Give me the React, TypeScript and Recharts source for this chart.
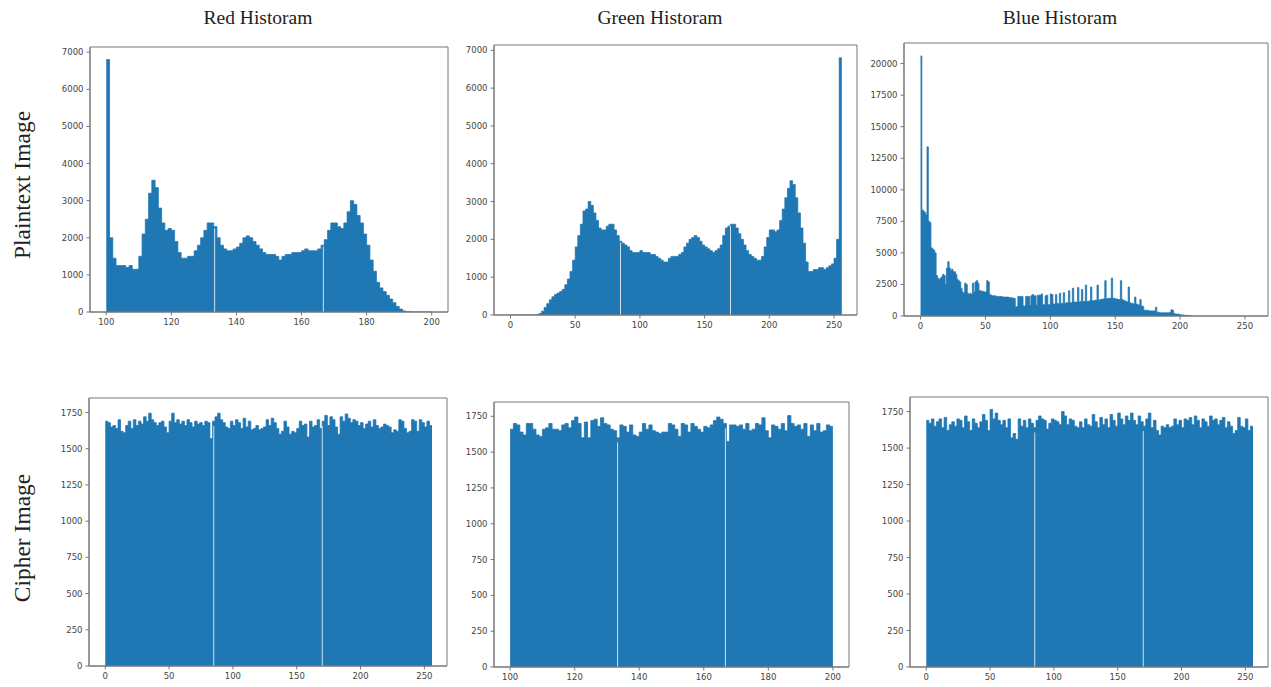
import React from "react"
import { AreaChart, Area, XAxis, YAxis, ReferenceLine, ReferenceArea } from "recharts"

const titles = ["Red Historam", "Green Historam", "Blue Historam"]
const rowLabels = ["Plaintext Image", "Cipher Image"]

// plaintext red channel, one bin per grey level from 100
const redPlain = [
  6800, 2000, 1450, 1250, 1250, 1250, 1200, 1250, 1150, 1150,
  1500, 2100, 2500, 3200, 3550, 3350, 2800, 2400, 2200, 2250,
  2200, 1900, 1600, 1450, 1450, 1500, 1500, 1650, 1800, 2000,
  2200, 2400, 2400, 2300, 2000, 1800, 1700, 1650, 1650, 1700,
  1750, 1850, 2000, 2050, 2000, 1900, 1800, 1700, 1600, 1550,
  1550, 1550, 1500, 1400, 1500, 1550, 1550, 1600, 1600, 1600,
  1650, 1700, 1650, 1650, 1650, 1700, 1800, 1950, 2200, 2400,
  2400, 2300, 2250, 2400, 2700, 3000, 2900, 2600, 2400, 2100,
  1800, 1400, 1100, 800, 650, 550, 450, 350, 250, 150,
  80, 30, 10, 5, 0, 0, 0, 0, 0, 0,
]

// plaintext green channel, bins of 2 from 0
const greenPlain = [
  0, 0, 0, 0, 0, 0, 0, 0, 0, 0,
  10, 40, 100, 200, 300, 400, 480, 540, 580, 620,
  680, 800, 950, 1150, 1450, 1800, 2100, 2400, 2750, 2800,
  3000, 2900, 2700, 2500, 2300, 2250, 2250, 2350, 2400, 2400,
  2250, 2100, 1950, 1900, 1850, 1800, 1700, 1650, 1650, 1650,
  1700, 1650, 1650, 1650, 1600, 1600, 1550, 1500, 1450, 1400,
  1400, 1500, 1550, 1550, 1550, 1600, 1650, 1800, 1900, 2000,
  2050, 2100, 2050, 1950, 1850, 1800, 1750, 1700, 1650, 1700,
  1750, 1850, 2100, 2300, 2350, 2400, 2400, 2300, 2150, 2000,
  1850, 1700, 1600, 1550, 1500, 1450, 1450, 1550, 1800, 2050,
  2250, 2250, 2200, 2250, 2500, 2800, 3100, 3350, 3550, 3450,
  3100, 2700, 2300, 1900, 1400, 1150, 1150, 1200, 1200, 1250,
  1250, 1200, 1250, 1300, 1350, 1500, 2000, 6800,
]

// plaintext blue channel, one bin per grey level from 0
const bluePlain = [
  20600, 8400, 8300, 8200, 8000, 13400, 7500, 7400, 5400, 5300,
  5200, 5000, 3200, 3000, 2900, 3000, 3100, 3300, 3200, 2500,
  3800, 4300, 3800, 3600, 3700, 3500, 3500, 3300, 2900, 2800,
  2700, 2200, 1900, 1800, 2600, 2500, 1800, 1700, 1800, 1700,
  2600, 1900, 2700, 2800, 2600, 2000, 2000, 1950, 1950, 1900,
  1900, 2800, 2700, 1700, 1650, 1600, 1600, 1600, 1550, 1550,
  1550, 1550, 1550, 1500, 1500, 1500, 1500, 1500, 1450, 1450,
  1450, 1400, 1400, 700, 750, 1550, 1550, 1550, 1550, 800,
  800, 1550, 1550, 1550, 850, 1600, 1700, 1600, 1600, 850,
  1650, 1650, 1650, 1750, 900, 900, 1600, 1650, 900, 900,
  1750, 1700, 950, 950, 1700, 1000, 950, 1800, 1000, 1000,
  1850, 1000, 1050, 1050, 2000, 1050, 1050, 2200, 1100, 1100,
  1100, 2250, 1100, 1150, 2100, 1150, 1150, 2450, 1150, 1150,
  1200, 2300, 1200, 1200, 1250, 1250, 2450, 1250, 1300, 1300,
  1350, 1350, 2800, 1350, 1400, 1400, 1400, 3000, 1400, 1400,
  1350, 1350, 1300, 1300, 2800, 1300, 1250, 1200, 1150, 1100,
  2300, 1050, 1000, 1000, 950, 1500, 950, 900, 850, 1300,
  800, 750, 450, 450, 450, 450, 400, 400, 400, 400,
  400, 700, 300, 300, 250, 250, 250, 250, 250, 250,
  250, 250, 300, 500, 450, 200, 150, 150, 150, 120,
  100, 80, 80, 60, 50, 40, 30, 20, 10, 5,
]

// cipher red channel, bins of 2 from 0
const redCipher = [
  1690, 1680, 1650, 1660, 1640, 1700, 1620, 1610, 1660, 1690,
  1640, 1700, 1660, 1690, 1670, 1720, 1690, 1745, 1700, 1680,
  1660, 1680, 1690, 1650, 1610, 1690, 1745, 1680, 1700, 1670,
  1690, 1660, 1700, 1680, 1650, 1690, 1670, 1680, 1660, 1690,
  1680, 1570, 1690, 1720, 1745, 1700, 1680, 1650, 1640, 1690,
  1660, 1700, 1680, 1640, 1710, 1650, 1690, 1630, 1640, 1660,
  1630, 1640, 1650, 1700, 1660, 1710, 1680, 1640, 1600, 1620,
  1690, 1650, 1600, 1620, 1610, 1640, 1690, 1660, 1670, 1580,
  1690, 1650, 1660, 1700, 1640, 1690, 1730, 1660, 1720, 1700,
  1650, 1600, 1720, 1690, 1740, 1710, 1680, 1700, 1690, 1660,
  1680, 1640, 1670, 1690, 1650, 1700, 1660, 1640, 1650, 1670,
  1660, 1650, 1610, 1630, 1620, 1700, 1690, 1640, 1610, 1620,
  1700, 1690, 1620, 1700, 1680, 1650, 1690, 1660,
]

// cipher green channel, one bin per level from 100
const greenCipher = [
  1660, 1700, 1690, 1640, 1620, 1700, 1700, 1660, 1620, 1610,
  1660, 1670, 1700, 1660, 1660, 1650, 1690, 1700, 1670, 1720,
  1745, 1700, 1600, 1710, 1600, 1720, 1730, 1680, 1740, 1700,
  1690, 1660, 1650, 1600, 1690, 1680, 1640, 1690, 1620, 1610,
  1640, 1700, 1660, 1690, 1650, 1640, 1630, 1640, 1640, 1700,
  1690, 1660, 1610, 1700, 1690, 1640, 1700, 1680, 1660, 1640,
  1680, 1670, 1690, 1720, 1745, 1730, 1700, 1575, 1690, 1690,
  1680, 1690, 1660, 1700, 1650, 1660, 1700, 1690, 1740, 1650,
  1600, 1690, 1680, 1660, 1700, 1650, 1755, 1700, 1680, 1690,
  1660, 1700, 1610, 1690, 1650, 1700, 1640, 1650, 1690, 1680,
]

// cipher blue channel, bins of 2 from 0
const blueCipher = [
  1690, 1670, 1700, 1650, 1680, 1700, 1640, 1710, 1620, 1660,
  1680, 1650, 1700, 1690, 1640, 1720, 1680, 1620, 1700, 1670,
  1640, 1680, 1730, 1690, 1620, 1765, 1700, 1740, 1690, 1660,
  1690, 1640, 1700, 1570, 1600, 1560, 1700, 1650, 1690, 1640,
  1700, 1670, 1640, 1690, 1720, 1700, 1690, 1630, 1670, 1700,
  1690, 1680, 1660, 1750, 1720, 1660, 1700, 1690, 1650, 1640,
  1680, 1640, 1700, 1660, 1650, 1730, 1680, 1640, 1710, 1660,
  1700, 1640, 1730, 1690, 1650, 1740, 1700, 1660, 1720, 1690,
  1740, 1690, 1660, 1720, 1680, 1650, 1700, 1740, 1640, 1690,
  1620, 1590, 1650, 1640, 1660, 1640, 1650, 1700, 1660, 1690,
  1640, 1700, 1690, 1710, 1660, 1720, 1690, 1640, 1700, 1680,
  1650, 1720, 1690, 1700, 1660, 1690, 1710, 1640, 1680, 1650,
  1600, 1620, 1710, 1650, 1640, 1700, 1620, 1650,
]

const fullTicks = [0, 50, 100, 150, 200, 250]
const midTicks = [100, 120, 140, 160, 180, 200]
const plainTicks = [0, 1000, 2000, 3000, 4000, 5000, 6000, 7000]
const blueTicks = [0, 2500, 5000, 7500, 10000, 12500, 15000, 17500, 20000]
const cipherTicks = [0, 250, 500, 750, 1000, 1250, 1500, 1750]
const fullGaps = [85, 170]
const midGaps = [133.3, 166.7]

const BAR = "#1f77b4"
const GAP = "#cfe1f0"
const FRAME = "#777"
const FULL: [number, number] = [-12.75, 267.75]
const MID: [number, number] = [95, 205]

const panels = [
  { values: redPlain, start: 100, bin: 1, xDomain: MID, xTicks: midTicks, yMax: 7140, yTicks: plainTicks, gaps: midGaps, frame: { left: 90, top: 47, right: 448, bottom: 312 } },
  { values: greenPlain, start: 0, bin: 2, xDomain: FULL, xTicks: fullTicks, yMax: 7140, yTicks: plainTicks, gaps: fullGaps, frame: { left: 494, top: 45, right: 857, bottom: 315 } },
  { values: bluePlain, start: 0, bin: 1, xDomain: FULL, xTicks: fullTicks, yMax: 21630, yTicks: blueTicks, gaps: [], frame: { left: 904, top: 43, right: 1268, bottom: 316 } },
  { values: redCipher, start: 0, bin: 2, xDomain: FULL, xTicks: fullTicks, yMax: 1850, yTicks: cipherTicks, gaps: fullGaps, frame: { left: 89, top: 398, right: 447, bottom: 666 } },
  { values: greenCipher, start: 100, bin: 1, xDomain: MID, xTicks: midTicks, yMax: 1850, yTicks: cipherTicks, gaps: midGaps, frame: { left: 494, top: 402, right: 849, bottom: 667 } },
  { values: blueCipher, start: 0, bin: 2, xDomain: FULL, xTicks: fullTicks, yMax: 1850, yTicks: cipherTicks, gaps: fullGaps, frame: { left: 910, top: 397, right: 1268, bottom: 667 } },
]

const tickStyle = { fill: "#444", fontSize: 8.5, fontFamily: "DejaVu Sans" }
const YW = 50
const XH = 22
const PAD = 2

function Histogram({ p }: { p: (typeof panels)[number] }) {
  const rows = p.values.map((v, i) => ({ x: p.start + i * p.bin, y: v }))
  rows.push({ x: p.start + p.values.length * p.bin, y: p.values[p.values.length - 1] })
  const w = p.frame.right - p.frame.left
  const h = p.frame.bottom - p.frame.top
  const heightAt = (gx: number) => p.values[Math.floor((gx - p.start) / p.bin)] ?? 0

  return (
    <div style={{ position: "absolute", left: p.frame.left - YW, top: p.frame.top - PAD }}>
      <AreaChart width={w + YW + PAD} height={h + PAD + XH} data={rows} margin={{ top: PAD, right: PAD, bottom: 0, left: 0 }}>
        <XAxis
          type="number"
          dataKey="x"
          domain={p.xDomain}
          ticks={p.xTicks}
          interval={0}
          allowDataOverflow
          height={XH}
          tick={tickStyle}
          tickSize={3.5}
          tickMargin={3}
          axisLine={{ stroke: FRAME }}
          tickLine={{ stroke: FRAME }}
        />
        <YAxis
          type="number"
          domain={[0, p.yMax]}
          ticks={p.yTicks}
          interval={0}
          allowDataOverflow
          width={YW}
          tick={tickStyle}
          tickSize={3.5}
          tickMargin={3}
          axisLine={{ stroke: FRAME }}
          tickLine={{ stroke: FRAME }}
        />
        <Area
          type="stepAfter"
          dataKey="y"
          stroke={BAR}
          strokeWidth={0.8}
          fill={BAR}
          fillOpacity={1}
          dot={false}
          activeDot={false}
          isAnimationActive={false}
        />
        {p.gaps.map((g) => (
          <ReferenceLine
            key={g}
            segment={[{ x: g, y: 0 }, { x: g, y: heightAt(g) * 0.98 }]}
            stroke={GAP}
            strokeWidth={1}
          />
        ))}
        <ReferenceArea
          x1={p.xDomain[0]}
          x2={p.xDomain[1]}
          y1={0}
          y2={p.yMax}
          fill="none"
          fillOpacity={0}
          stroke={FRAME}
          strokeWidth={1}
          ifOverflow="visible"
        />
      </AreaChart>
    </div>
  )
}

const titleX = [258, 660, 1060]
const labelY = [185, 538]

export default function App() {
  return (
    <div style={{ position: "absolute", left: 0, top: 0, width: 1271, height: 687, background: "#fff", overflow: "hidden" }}>
      {titles.map((t, i) => (
        <div
          key={t}
          style={{
            position: "absolute",
            left: titleX[i],
            top: 18,
            transform: "translate(-50%, -50%)",
            whiteSpace: "nowrap",
            fontFamily: "'Liberation Serif', serif",
            fontSize: 19.5,
            color: "#222",
          }}
        >
          {t}
        </div>
      ))}
      {rowLabels.map((t, i) => (
        <div
          key={t}
          style={{
            position: "absolute",
            left: 22,
            top: labelY[i],
            transform: "translate(-50%, -50%) rotate(-90deg)",
            whiteSpace: "nowrap",
            fontFamily: "'Liberation Serif', serif",
            fontSize: 23.5,
            color: "#222",
          }}
        >
          {t}
        </div>
      ))}
      {panels.map((p, i) => (
        <Histogram key={i} p={p} />
      ))}
    </div>
  )
}
